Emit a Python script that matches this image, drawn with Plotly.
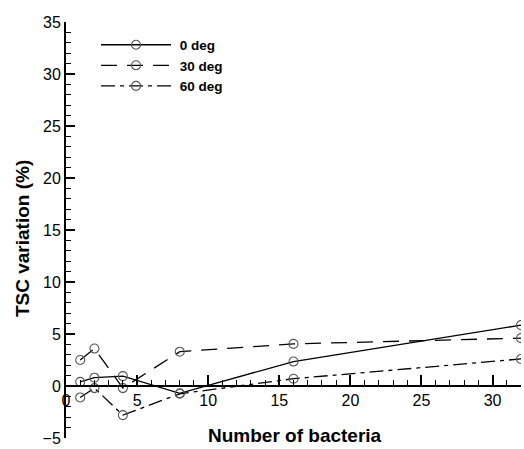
import plotly.graph_objects as go

n_bacteria = [1, 2, 4, 8, 16, 32]
deg0 = [0.4, 0.8, 0.95, -0.7, 2.35, 5.85]
deg30 = [2.5, 3.6, -0.2, 3.3, 4.05, 4.6]
deg60 = [-1.1, -0.2, -2.8, -0.75, 0.7, 2.6]
series_names = ["0 deg", "30 deg", "60 deg"]
dashes = ["solid", "16px,10px", "14px,5px,4px,5px"]
x_ticks = [0, 5, 10, 15, 20, 25, 30]
y_ticks = [-5, 0, 5, 10, 15, 20, 25, 30, 35]

fig = go.Figure()
for name, vals, dash in zip(series_names, [deg0, deg30, deg60], dashes):
    fig.add_trace(go.Scatter(
        x=n_bacteria, y=vals, name="\u00a0" + name, mode="lines+markers",
        line=dict(color="black", width=1.3, dash=dash),
        marker=dict(symbol="circle-open", size=9, color="#555555",
                    line=dict(width=1.1, color="#555555")),
    ))

font = "Liberation Sans, Arial, sans-serif"
fig.update_layout(
    width=524, height=449,
    margin=dict(l=66, r=3, t=22, b=11),
    plot_bgcolor="white", paper_bgcolor="white",
    font=dict(family=font, size=16, color="black"),
    showlegend=True,
    legend=dict(x=0.066, y=0.982, xanchor="left", yanchor="top",
                bgcolor="rgba(0,0,0,0)", itemwidth=70,
                font=dict(family=font, size=13.5, color="black", weight="bold"),
                tracegroupgap=0),
    xaxis=dict(range=[0, 32], tickvals=x_ticks, anchor="free", position=0.125,
               showgrid=False, zeroline=False, showline=True, linecolor="black",
               linewidth=2, ticks="inside", ticklen=10, tickwidth=2, tickcolor="black",
               minor=dict(dtick=1, ticks="inside", ticklen=5, tickwidth=1, tickcolor="black"),
               tickfont=dict(size=16), ticklabelstandoff=0),
    yaxis=dict(range=[-5, 35], tickvals=y_ticks,
               showgrid=False, zeroline=False, showline=True, linecolor="black",
               linewidth=2, ticks="inside", ticklen=9, tickwidth=2, tickcolor="black",
               minor=dict(dtick=1, ticks="inside", ticklen=5, tickwidth=1, tickcolor="black"),
               tickfont=dict(size=16)),
    annotations=[
        dict(text="<b>Number of bacteria</b>", xref="paper", yref="paper",
             x=0.503, y=0.005, xanchor="center", yanchor="middle", showarrow=False,
             font=dict(size=19)),
        dict(text="<b>TSC variation (%)</b>", xref="paper", yref="paper",
             x=-0.095, y=0.48, xanchor="center", yanchor="middle", showarrow=False,
             textangle=-90, font=dict(size=19)),
    ],
)

fig.write_html("out.html")
